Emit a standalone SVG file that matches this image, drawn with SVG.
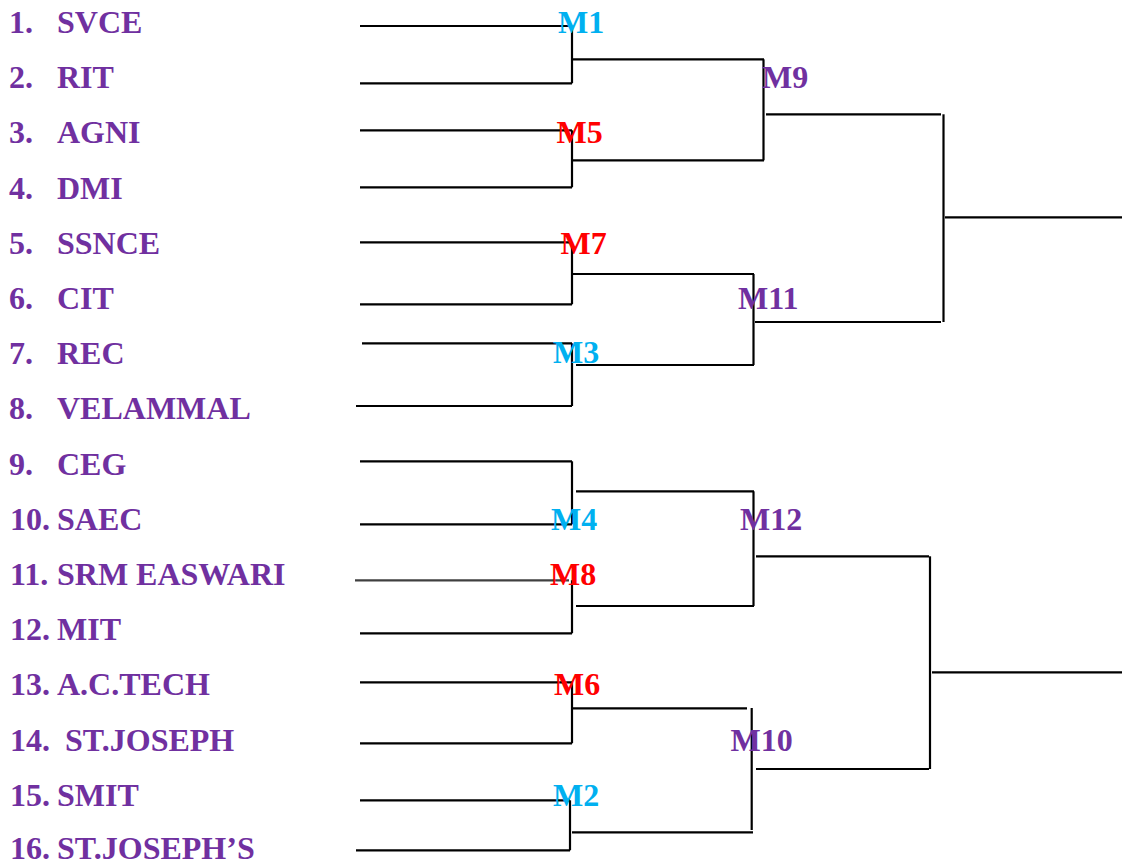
<svg xmlns="http://www.w3.org/2000/svg" width="1122" height="865" viewBox="0 0 1122 865">
<style>
text{font-family:"Liberation Serif","Times New Roman",serif;font-weight:bold;font-size:32px}
.t{fill:#7030A0}
.b{fill:#00B0F0}
.r{fill:#FF0000}
.p{fill:#7030A0}
.c line{stroke:#000;stroke-width:2.2;stroke-linecap:butt}
</style>
<rect width="1122" height="865" fill="#fff"/>
<g class="c" id="connectors">
<line x1="360" y1="26" x2="572" y2="26"/>
<line x1="360" y1="83.3" x2="572" y2="83.3"/>
<line x1="360" y1="130.3" x2="572" y2="130.3"/>
<line x1="360" y1="187.3" x2="572" y2="187.3"/>
<line x1="360" y1="242.3" x2="572" y2="242.3"/>
<line x1="360" y1="304.3" x2="572" y2="304.3"/>
<line x1="362" y1="343.3" x2="572" y2="343.3"/>
<line x1="356" y1="406" x2="572" y2="406"/>
<line x1="360" y1="461.3" x2="572" y2="461.3"/>
<line x1="360" y1="524.3" x2="572" y2="524.3"/>
<line x1="355" y1="580.3" x2="569" y2="580.3" style="stroke:#404040"/>
<line x1="360" y1="633.3" x2="572" y2="633.3"/>
<line x1="360" y1="682.3" x2="572" y2="682.3"/>
<line x1="360" y1="743.3" x2="572" y2="743.3"/>
<line x1="360" y1="800.3" x2="570" y2="800.3"/>
<line x1="356" y1="850.3" x2="570" y2="850.3"/>
<line x1="572" y1="26" x2="572" y2="83.3"/>
<line x1="572" y1="130.3" x2="572" y2="187.3"/>
<line x1="572" y1="242.3" x2="572" y2="304.3"/>
<line x1="572" y1="343.3" x2="572" y2="406"/>
<line x1="572" y1="461.3" x2="572" y2="524.3"/>
<line x1="572" y1="580.3" x2="572" y2="633.3"/>
<line x1="572" y1="682.3" x2="572" y2="743.3"/>
<line x1="570" y1="800.3" x2="570" y2="850.3"/>
<line x1="573" y1="59.3" x2="764" y2="59.3"/>
<line x1="573" y1="160.3" x2="764" y2="160.3"/>
<line x1="573" y1="274" x2="754" y2="274"/>
<line x1="576" y1="365" x2="754" y2="365"/>
<line x1="576" y1="491.3" x2="754" y2="491.3"/>
<line x1="576" y1="606" x2="754" y2="606"/>
<line x1="573" y1="708.3" x2="747" y2="708.3"/>
<line x1="572" y1="832.3" x2="753" y2="832.3"/>
<line x1="763.5" y1="59.3" x2="763.5" y2="160.3"/>
<line x1="753.5" y1="274" x2="753.5" y2="365"/>
<line x1="753.5" y1="491.3" x2="753.5" y2="606"/>
<line x1="751.7" y1="708" x2="751.7" y2="830"/>
<line x1="766" y1="114.3" x2="941" y2="114.3"/>
<line x1="755" y1="322" x2="941" y2="322"/>
<line x1="756" y1="556.3" x2="929" y2="556.3"/>
<line x1="756" y1="769" x2="929" y2="769"/>
<line x1="943.5" y1="114.3" x2="943.5" y2="322"/>
<line x1="930" y1="556.3" x2="930" y2="769"/>
<line x1="945" y1="217.3" x2="1122" y2="217.3"/>
<line x1="932" y1="672.3" x2="1122" y2="672.3"/>
</g>
<g id="team1"><text class="t" x="9" y="33">1.</text><text class="t" x="57" y="33">SVCE</text></g>
<g id="team2"><text class="t" x="9" y="88.2">2.</text><text class="t" x="57" y="88.2">RIT</text></g>
<g id="team3"><text class="t" x="9" y="143.4">3.</text><text class="t" x="57" y="143.4">AGNI</text></g>
<g id="team4"><text class="t" x="9" y="198.6">4.</text><text class="t" x="57" y="198.6">DMI</text></g>
<g id="team5"><text class="t" x="9" y="253.8">5.</text><text class="t" x="57" y="253.8">SSNCE</text></g>
<g id="team6"><text class="t" x="9" y="309">6.</text><text class="t" x="57" y="309">CIT</text></g>
<g id="team7"><text class="t" x="9" y="364.2">7.</text><text class="t" x="57" y="364.2">REC</text></g>
<g id="team8"><text class="t" x="9" y="419.4">8.</text><text class="t" x="57" y="419.4">VELAMMAL</text></g>
<g id="team9"><text class="t" x="9" y="474.6">9.</text><text class="t" x="57" y="474.6">CEG</text></g>
<g id="team10"><text class="t" x="10" y="529.8">10.</text><text class="t" x="57" y="529.8">SAEC</text></g>
<g id="team11"><text class="t" x="10" y="585">11.</text><text class="t" x="57" y="585">SRM EASWARI</text></g>
<g id="team12"><text class="t" x="10" y="640.2">12.</text><text class="t" x="57" y="640.2">MIT</text></g>
<g id="team13"><text class="t" x="10" y="695.4">13.</text><text class="t" x="57" y="695.4">A.C.TECH</text></g>
<g id="team14"><text class="t" x="10" y="750.6">14.</text><text class="t" x="65" y="750.6">ST.JOSEPH</text></g>
<g id="team15"><text class="t" x="10" y="805.8">15.</text><text class="t" x="57" y="805.8">SMIT</text></g>
<g id="team16"><text class="t" x="10" y="859">16.</text><text class="t" x="57" y="859">ST.JOSEPH’S</text></g>
<g id="M1"><text class="b" x="558" y="33">M1</text></g>
<g id="M2"><text class="b" x="553" y="805.8">M2</text></g>
<g id="M3"><text class="b" x="553" y="363">M3</text></g>
<g id="M4"><text class="b" x="551" y="530">M4</text></g>
<g id="M5"><text class="r" x="556.5" y="143.4">M5</text></g>
<g id="M6"><text class="r" x="554" y="695">M6</text></g>
<g id="M7"><text class="r" x="560.5" y="254">M7</text></g>
<g id="M8"><text class="r" x="550" y="585">M8</text></g>
<g id="M9"><text class="p" x="762" y="88.3">M9</text></g>
<g id="M10"><text class="p" x="730.5" y="750.5">M10</text></g>
<g id="M11"><text class="p" x="738" y="309">M11</text></g>
<g id="M12"><text class="p" x="740" y="530">M12</text></g>
</svg>
